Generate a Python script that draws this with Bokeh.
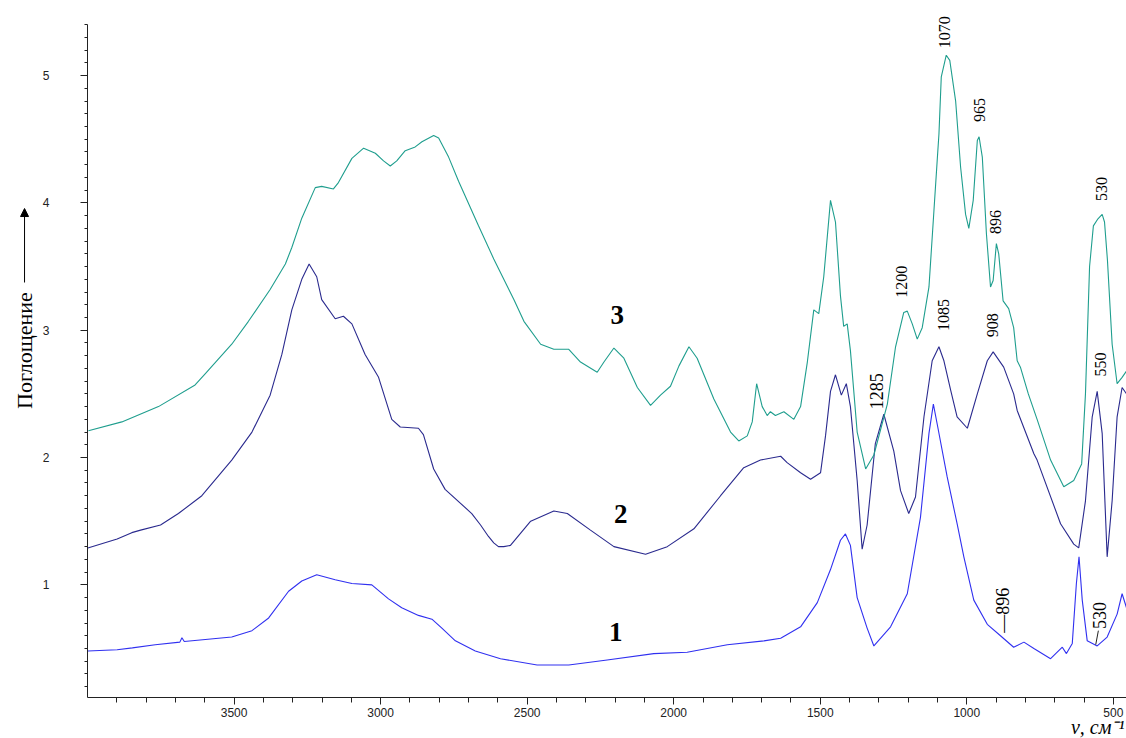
import math
from bokeh.plotting import figure
from bokeh.models import (Range1d, FixedTicker, Label, LabelSet, Arrow, NormalHead,
                          ColumnDataSource)
from bokeh.embed import file_html
from bokeh.resources import INLINE

# ---- spectrum 1 (blue) ----
wn1 = [3999, 3899, 3847, 3769, 3685, 3678, 3670, 3508, 3439, 3382, 3314, 3269, 3218, 3155,
       3098, 3030, 2973, 2928, 2871, 2825, 2791, 2745, 2677, 2591, 2466, 2358, 2227, 2068,
       1954, 1817, 1692, 1635, 1567, 1510, 1465, 1431, 1414, 1397, 1374, 1340, 1317, 1260,
       1203, 1158, 1129, 1114, 1099, 1067, 1033, 1010, 976, 930, 885, 840, 805, 771, 714,
       674, 660, 640, 626, 617, 606, 589, 555, 521, 487, 470, 455]
ab1 = [0.48, 0.49, 0.505, 0.53, 0.55, 0.585, 0.555, 0.59, 0.64, 0.74, 0.95, 1.03, 1.08, 1.04,
       1.01, 1.00, 0.89, 0.82, 0.76, 0.73, 0.66, 0.56, 0.48, 0.42, 0.37, 0.37, 0.41, 0.46,
       0.47, 0.53, 0.56, 0.58, 0.67, 0.86, 1.12, 1.35, 1.40, 1.31, 0.90, 0.66, 0.52, 0.67,
       0.93, 1.53, 2.19, 2.42, 2.24, 1.85, 1.48, 1.22, 0.88, 0.69, 0.60, 0.51, 0.55, 0.50, 0.42,
       0.51, 0.46, 0.54, 1.01, 1.22, 0.88, 0.56, 0.52, 0.59, 0.77, 0.93, 0.82]

# ---- spectrum 2 (dark blue) ----
wn2 = [3999, 3899, 3849, 3819, 3751, 3690, 3610, 3508, 3439, 3377, 3337, 3303, 3269, 3244,
       3218, 3201, 3155, 3127, 3098, 3053, 3007, 2962, 2933, 2871, 2854, 2819, 2780, 2689,
       2659, 2632, 2614, 2598, 2580, 2557, 2488, 2409, 2363, 2284, 2204, 2096, 2022, 1931,
       1840, 1761, 1704, 1635, 1613, 1567, 1533, 1499, 1482, 1465, 1448, 1428, 1411, 1397,
       1374, 1357, 1340, 1312, 1283, 1249, 1226, 1198, 1175, 1146, 1118, 1095, 1078, 1055,
       1033, 998, 964, 930, 910, 874, 840, 828, 771, 760, 680, 635, 618, 595, 572, 555, 538,
       521, 504, 487, 470, 455]
ab2 = [1.29, 1.36, 1.41, 1.43, 1.47, 1.56, 1.70, 1.98, 2.20, 2.49, 2.81, 3.16, 3.40, 3.52,
       3.42, 3.24, 3.09, 3.11, 3.05, 2.81, 2.63, 2.30, 2.24, 2.23, 2.18, 1.91, 1.75, 1.56,
       1.47, 1.38, 1.33, 1.30, 1.30, 1.31, 1.50, 1.58, 1.56, 1.43, 1.30, 1.24, 1.30, 1.44,
       1.70, 1.92, 1.98, 2.01, 1.96, 1.88, 1.83, 1.88, 2.17, 2.52, 2.65, 2.49, 2.58, 2.40,
       1.82, 1.28, 1.47, 2.11, 2.34, 2.05, 1.74, 1.56, 1.69, 2.32, 2.76, 2.87, 2.76, 2.53,
       2.32, 2.23, 2.50, 2.76, 2.83, 2.71, 2.50, 2.37, 2.03, 1.98, 1.48, 1.32, 1.29, 1.66, 2.32,
       2.52, 2.19, 1.22, 1.66, 2.32, 2.55, 2.50]

# ---- spectrum 3 (teal) ----
wn3 = [3997, 3883, 3758, 3633, 3598, 3508, 3451, 3377, 3325, 3303, 3269, 3223, 3201, 3161,
       3144, 3098, 3058, 3018, 2990, 2967, 2945, 2916, 2882, 2859, 2819, 2802, 2768, 2734,
       2666, 2614, 2545, 2511, 2454, 2409, 2358, 2318, 2261, 2238, 2204, 2170, 2124, 2079,
       2045, 2011, 1982, 1948, 1920, 1863, 1806, 1778, 1749, 1732, 1717, 1698, 1681, 1670,
       1653, 1624, 1590, 1567, 1544, 1522, 1505, 1488, 1465, 1448, 1431, 1420, 1408, 1397,
       1374, 1345, 1317, 1271, 1243, 1215, 1203, 1186, 1169, 1152, 1129, 1112, 1101, 1095,
       1087, 1070, 1058, 1038, 1021, 1004, 993, 978, 964, 958, 947, 933, 919, 910, 899, 891,
       876, 857, 840, 828, 817, 790, 760, 714, 669, 635, 608, 595, 581, 568, 554, 538, 530,
       520, 504, 487, 470, 455]
ab3 = [2.21, 2.28, 2.40, 2.57, 2.66, 2.89, 3.07, 3.32, 3.52, 3.65, 3.88, 4.12, 4.13, 4.11,
       4.16, 4.35, 4.43, 4.39, 4.33, 4.29, 4.33, 4.41, 4.44, 4.48, 4.53, 4.51, 4.36, 4.17,
       3.82, 3.56, 3.24, 3.07, 2.89, 2.85, 2.85, 2.75, 2.67, 2.75, 2.86, 2.78, 2.55, 2.41,
       2.49, 2.56, 2.72, 2.87, 2.78, 2.46, 2.20, 2.13, 2.17, 2.28, 2.58, 2.40, 2.33, 2.36,
       2.33, 2.36, 2.30, 2.40, 2.75, 3.16, 3.13, 3.42, 4.02, 3.85, 3.27, 3.03, 3.05, 2.84,
       2.20, 1.91, 2.02, 2.42, 2.87, 3.14, 3.15, 3.05, 2.93, 3.02, 3.34, 3.94, 4.33, 4.54,
       4.99, 5.16, 5.12, 4.80, 4.28, 3.91, 3.80, 4.02, 4.49, 4.52, 4.36, 3.76, 3.34, 3.39, 3.68, 3.60,
       3.23, 3.17, 3.02, 2.76, 2.71, 2.50, 2.30, 1.98, 1.77, 1.82, 1.95, 2.50, 3.50, 3.82, 3.87, 3.91, 3.85,
       3.55, 2.89, 2.58, 2.63, 2.68]

# ---- axes ----
x_view = [4297, 455]          # visible window of the canvas
y_view = [-0.207, 5.59]
x_axis_span = [455, 4000]
y_axis_span = [0.115, 5.40]
x_major = [3500, 3000, 2500, 2000, 1500, 1000, 500]
x_minor = [3900, 3800, 3700, 3600, 3500, 3400, 3300, 3200, 3100, 3000, 2900, 2800, 2700,
           2600, 2500, 2400, 2300, 2200, 2100, 2000, 1900, 1800, 1700, 1600, 1500, 1400,
           1300, 1200, 1100, 1000, 900, 800, 700, 600, 500]
y_major = [1, 2, 3, 4, 5]
y_minor = [0.2, 0.3, 0.4, 0.5, 0.6, 0.7, 0.8, 0.9, 1.1, 1.2, 1.3, 1.4, 1.5, 1.6, 1.7, 1.8,
           1.9, 2.1, 2.2, 2.3, 2.4, 2.5, 2.6, 2.7, 2.8, 2.9, 3.1, 3.2, 3.3, 3.4, 3.5, 3.6,
           3.7, 3.8, 3.9, 4.1, 4.2, 4.3, 4.4, 4.5, 4.6, 4.7, 4.8, 4.9, 5.1, 5.2, 5.3, 5.4]

# ---- annotations ----
peak_text = ["1070", "965", "896", "530", "1200", "1085", "908", "550"]
peak_wn = [1076, 956, 902, 540, 1223, 1079, 912, 544]
peak_ab = [5.34, 4.73, 3.85, 4.11, 3.38, 3.12, 3.04, 2.73]

serif_text = ["1285", "\u2014896", "530"]
serif_wn = [1308, 878, 547]
serif_ab = [2.52, 0.80, 0.76]

curve_text = ["1", "2", "3"]
curve_wn = [2198, 2181, 2193]
curve_ab = [0.627, 1.56, 3.12]

leader_wn0 = [551]
leader_ab0 = [0.64]
leader_wn1 = [560]
leader_ab1 = [0.53]

ylabel_wn = 4215
ylabel_ab = 2.84
arrow_ab = [3.375, 3.956]
xlabel_wn = 462
xlabel_ab = -0.115

p = figure(width=1126, height=738, output_backend="svg", toolbar_location=None, title=None,
           x_range=Range1d(x_view[0], x_view[1]), y_range=Range1d(y_view[0], y_view[1]),
           min_border=0, min_border_left=0, min_border_right=0, min_border_top=0,
           min_border_bottom=0)
p.xgrid.visible = False
p.ygrid.visible = False
p.outline_line_color = None
p.background_fill_color = "white"
p.border_fill_color = "white"

for ax in (p.xaxis, p.yaxis):
    ax.axis_line_color = "#222222"
    ax.major_tick_line_color = "#222222"
    ax.minor_tick_line_color = "#222222"
    ax.major_tick_in = 0
    ax.minor_tick_in = 0
    ax.major_label_text_font = "Liberation Sans"
    ax.major_label_text_font_size = "12px"
    ax.major_label_text_color = "#222222"

p.xaxis.fixed_location = y_axis_span[0]
p.xaxis.bounds = (x_axis_span[0], x_axis_span[1])
p.xaxis.ticker = FixedTicker(ticks=x_major, minor_ticks=x_minor)
p.xaxis.major_tick_out = 7
p.xaxis.minor_tick_out = 5
p.xaxis.major_label_standoff = 3

p.yaxis.fixed_location = x_axis_span[1]
p.yaxis.bounds = (y_axis_span[0], y_axis_span[1])
p.yaxis.ticker = FixedTicker(ticks=y_major, minor_ticks=y_minor)
p.yaxis.major_tick_out = 7
p.yaxis.minor_tick_out = 3
p.yaxis.major_label_standoff = 31

p.line(wn1, ab1, line_color="#3030f0", line_width=1.1)
p.line(wn2, ab2, line_color="#2a2a8e", line_width=1.1)
p.line(wn3, ab3, line_color="#1f9e8e", line_width=1.1)

p.segment(x0=leader_wn0, y0=leader_ab0, x1=leader_wn1, y1=leader_ab1,
          line_color="#222222", line_width=1)

p.add_layout(LabelSet(x="x", y="y", text="t", angle=math.pi / 2,
                      source=ColumnDataSource(dict(x=peak_wn, y=peak_ab, t=peak_text)),
                      text_font="Lato", text_font_size="16px", text_color="black",
                      text_align="center", text_baseline="middle"))
p.add_layout(LabelSet(x="x", y="y", text="t", angle=math.pi / 2,
                      source=ColumnDataSource(dict(x=serif_wn, y=serif_ab, t=serif_text)),
                      text_font="Liberation Serif", text_font_size="18px", text_color="black",
                      text_align="center", text_baseline="middle"))
p.add_layout(LabelSet(x="x", y="y", text="t",
                      source=ColumnDataSource(dict(x=curve_wn, y=curve_ab, t=curve_text)),
                      text_font="Liberation Serif", text_font_size="27px",
                      text_font_style="bold", text_color="black",
                      text_align="center", text_baseline="middle"))

p.add_layout(Label(x=ylabel_wn, y=ylabel_ab, text="Поглощение", angle=math.pi / 2,
                   text_font="Liberation Serif", text_font_size="22px", text_color="black",
                   text_align="center", text_baseline="middle"))
p.add_layout(Arrow(x_start=ylabel_wn, y_start=arrow_ab[0], x_end=ylabel_wn, y_end=arrow_ab[1],
                   line_color="black", line_width=1,
                   end=NormalHead(size=8, fill_color="black", line_color="black")))
p.add_layout(Label(x=xlabel_wn, y=xlabel_ab, text="ν, см⁻¹",
                   text_font="Liberation Serif", text_font_size="20px",
                   text_font_style="italic", text_color="black",
                   text_align="right", text_baseline="alphabetic"))

open("out.html", "w").write(file_html(p, INLINE))
